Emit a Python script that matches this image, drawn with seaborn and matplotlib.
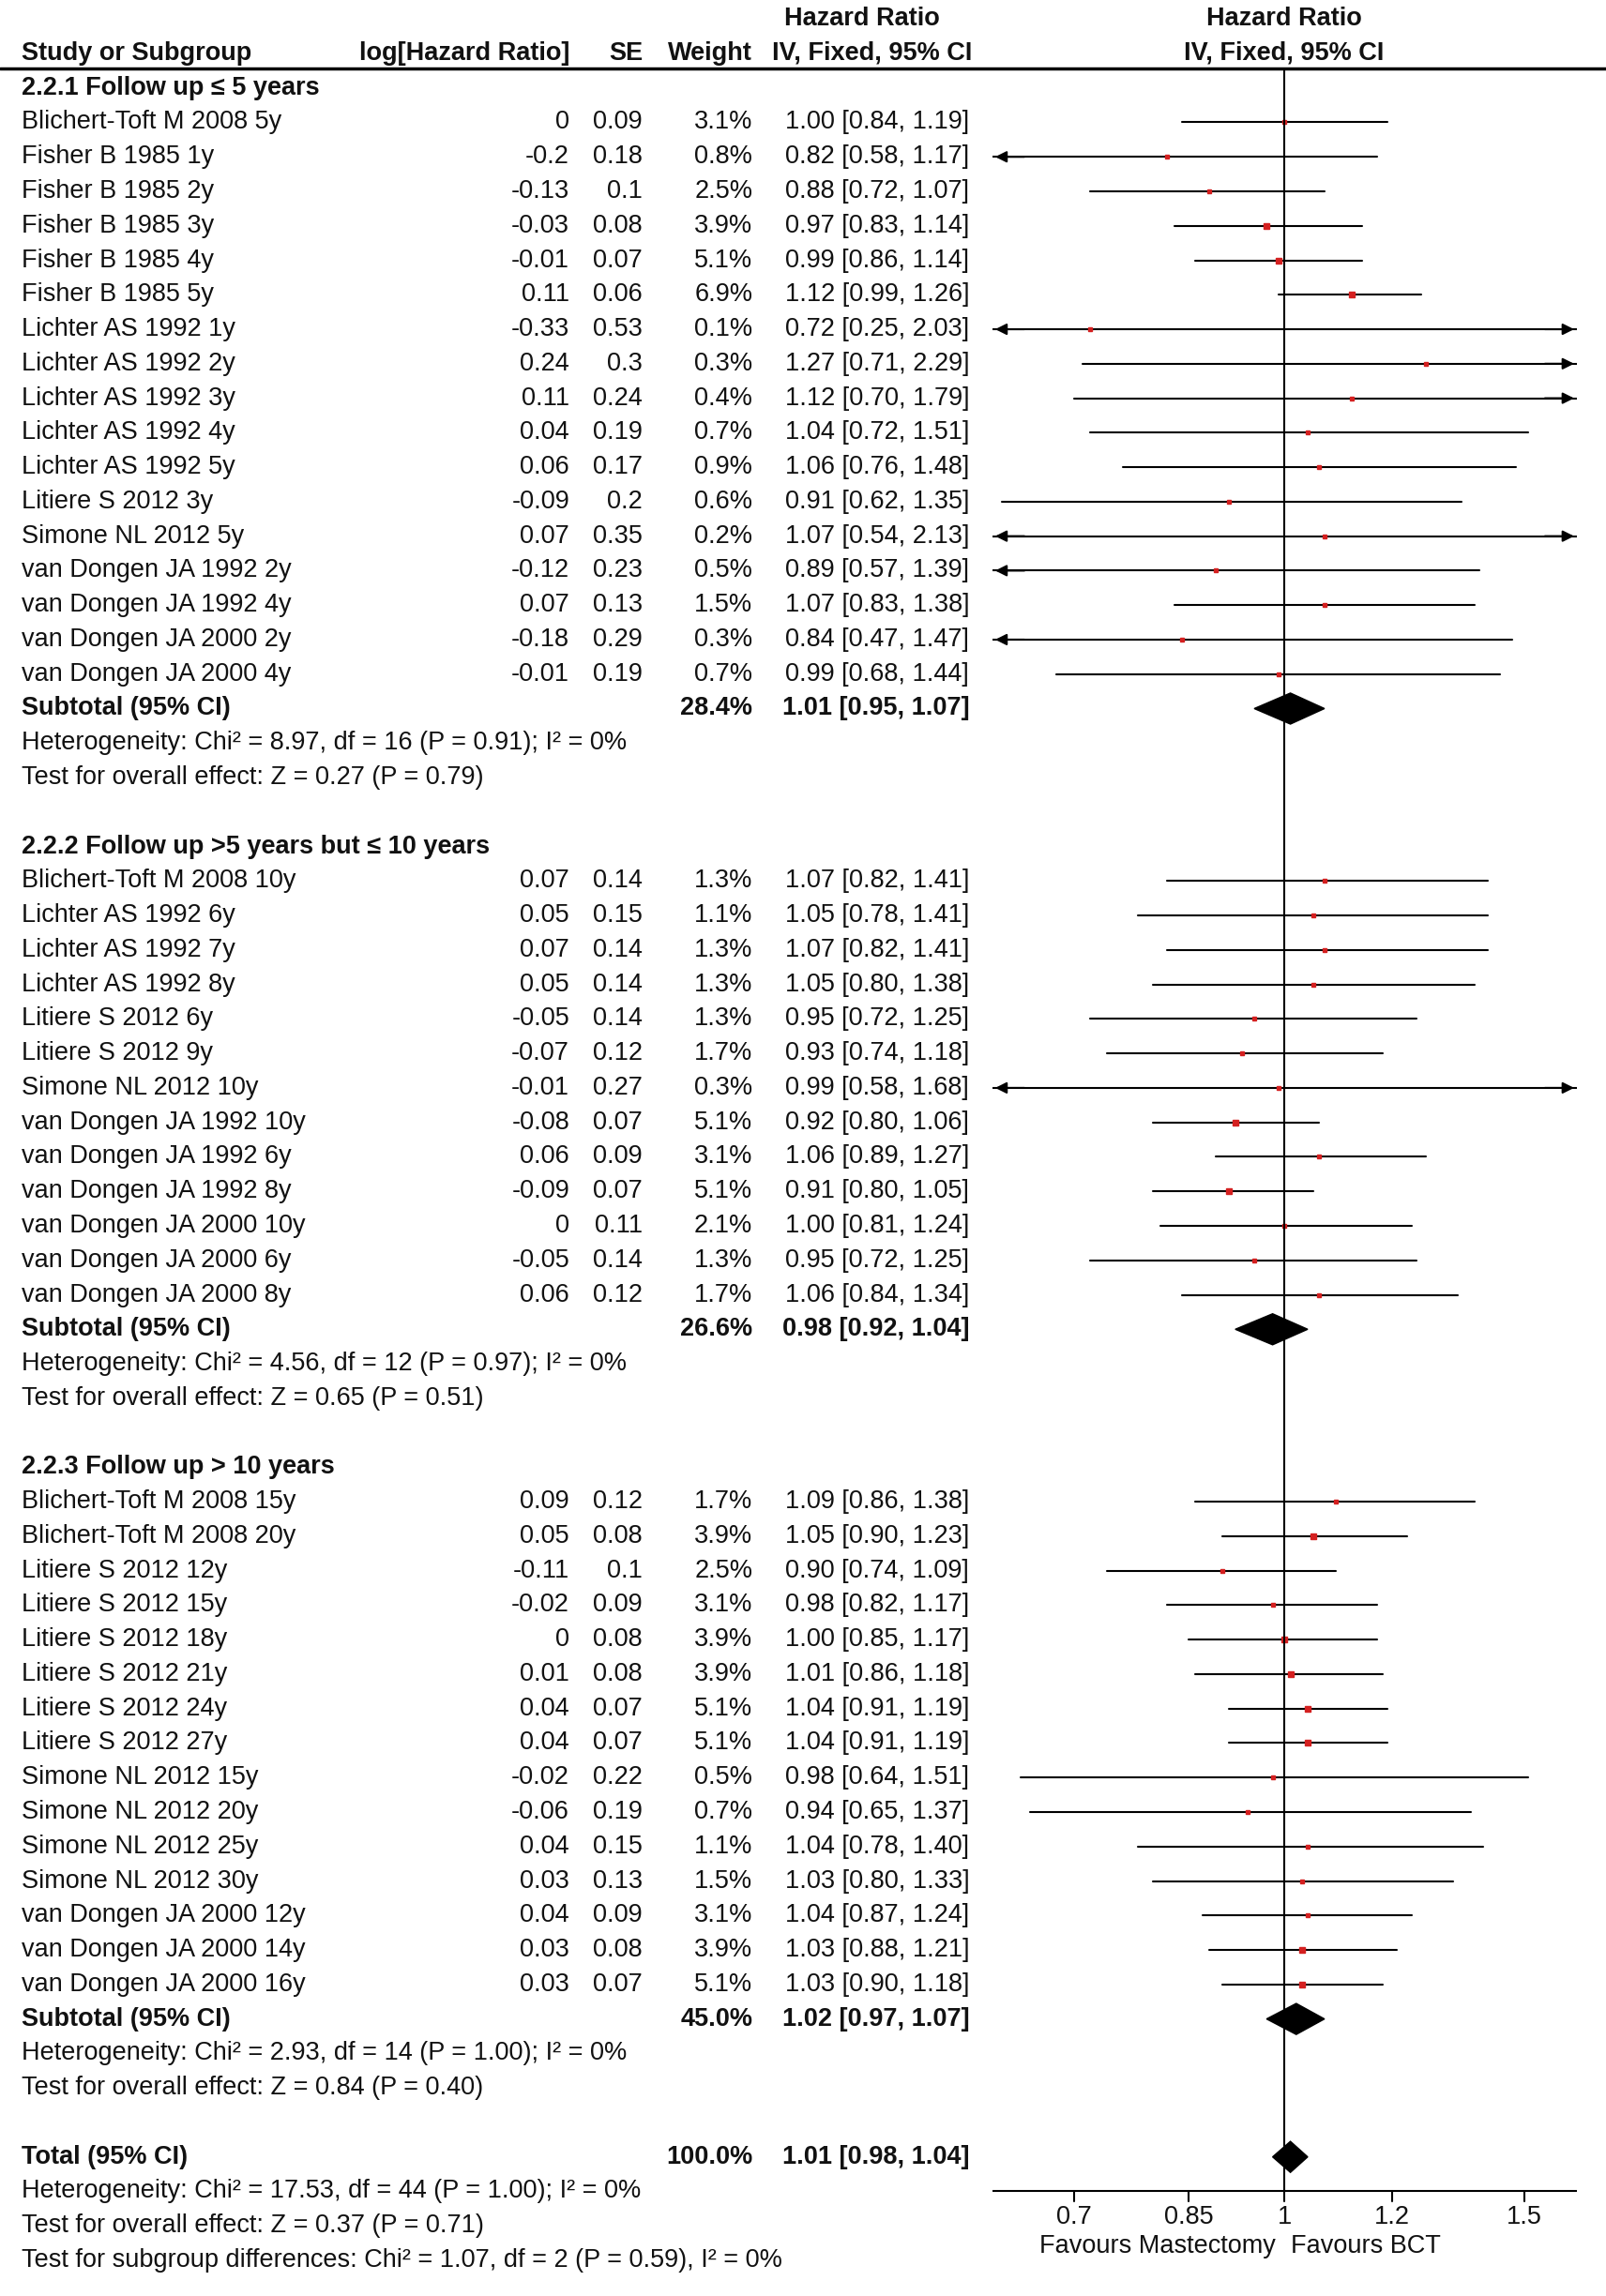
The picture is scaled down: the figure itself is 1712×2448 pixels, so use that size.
import numpy as np
import matplotlib
matplotlib.use("Agg")
import matplotlib.pyplot as plt
import seaborn as sns

sns.set_theme(style="white")
plt.rcParams['font.family'] = ['Liberation Sans', 'DejaVu Sans']

# ---- data ----
names1 = ["Blichert-Toft M 2008 5y", "Fisher B 1985 1y", "Fisher B 1985 2y", "Fisher B 1985 3y",
          "Fisher B 1985 4y", "Fisher B 1985 5y", "Lichter AS 1992 1y", "Lichter AS 1992 2y",
          "Lichter AS 1992 3y", "Lichter AS 1992 4y", "Lichter AS 1992 5y", "Litiere S 2012 3y",
          "Simone NL 2012 5y", "van Dongen JA 1992 2y", "van Dongen JA 1992 4y",
          "van Dongen JA 2000 2y", "van Dongen JA 2000 4y"]
loghr1 = ["0", "-0.2", "-0.13", "-0.03", "-0.01", "0.11", "-0.33", "0.24", "0.11", "0.04", "0.06",
          "-0.09", "0.07", "-0.12", "0.07", "-0.18", "-0.01"]
se1 = ["0.09", "0.18", "0.1", "0.08", "0.07", "0.06", "0.53", "0.3", "0.24", "0.19", "0.17",
       "0.2", "0.35", "0.23", "0.13", "0.29", "0.19"]
w1 = [3.1, 0.8, 2.5, 3.9, 5.1, 6.9, 0.1, 0.3, 0.4, 0.7, 0.9, 0.6, 0.2, 0.5, 1.5, 0.3, 0.7]
hr1 = [1.00, 0.82, 0.88, 0.97, 0.99, 1.12, 0.72, 1.27, 1.12, 1.04, 1.06, 0.91, 1.07, 0.89, 1.07, 0.84, 0.99]
lo1 = [0.84, 0.58, 0.72, 0.83, 0.86, 0.99, 0.25, 0.71, 0.70, 0.72, 0.76, 0.62, 0.54, 0.57, 0.83, 0.47, 0.68]
hi1 = [1.19, 1.17, 1.07, 1.14, 1.14, 1.26, 2.03, 2.29, 1.79, 1.51, 1.48, 1.35, 2.13, 1.39, 1.38, 1.47, 1.44]

names2 = ["Blichert-Toft M 2008 10y", "Lichter AS 1992 6y", "Lichter AS 1992 7y", "Lichter AS 1992 8y",
          "Litiere S 2012 6y", "Litiere S 2012 9y", "Simone NL 2012 10y", "van Dongen JA 1992 10y",
          "van Dongen JA 1992 6y", "van Dongen JA 1992 8y", "van Dongen JA 2000 10y",
          "van Dongen JA 2000 6y", "van Dongen JA 2000 8y"]
loghr2 = ["0.07", "0.05", "0.07", "0.05", "-0.05", "-0.07", "-0.01", "-0.08", "0.06", "-0.09", "0", "-0.05", "0.06"]
se2 = ["0.14", "0.15", "0.14", "0.14", "0.14", "0.12", "0.27", "0.07", "0.09", "0.07", "0.11", "0.14", "0.12"]
w2 = [1.3, 1.1, 1.3, 1.3, 1.3, 1.7, 0.3, 5.1, 3.1, 5.1, 2.1, 1.3, 1.7]
hr2 = [1.07, 1.05, 1.07, 1.05, 0.95, 0.93, 0.99, 0.92, 1.06, 0.91, 1.00, 0.95, 1.06]
lo2 = [0.82, 0.78, 0.82, 0.80, 0.72, 0.74, 0.58, 0.80, 0.89, 0.80, 0.81, 0.72, 0.84]
hi2 = [1.41, 1.41, 1.41, 1.38, 1.25, 1.18, 1.68, 1.06, 1.27, 1.05, 1.24, 1.25, 1.34]

names3 = ["Blichert-Toft M 2008 15y", "Blichert-Toft M 2008 20y", "Litiere S 2012 12y", "Litiere S 2012 15y",
          "Litiere S 2012 18y", "Litiere S 2012 21y", "Litiere S 2012 24y", "Litiere S 2012 27y",
          "Simone NL 2012 15y", "Simone NL 2012 20y", "Simone NL 2012 25y", "Simone NL 2012 30y",
          "van Dongen JA 2000 12y", "van Dongen JA 2000 14y", "van Dongen JA 2000 16y"]
loghr3 = ["0.09", "0.05", "-0.11", "-0.02", "0", "0.01", "0.04", "0.04", "-0.02", "-0.06", "0.04", "0.03", "0.04", "0.03", "0.03"]
se3 = ["0.12", "0.08", "0.1", "0.09", "0.08", "0.08", "0.07", "0.07", "0.22", "0.19", "0.15", "0.13", "0.09", "0.08", "0.07"]
w3 = [1.7, 3.9, 2.5, 3.1, 3.9, 3.9, 5.1, 5.1, 0.5, 0.7, 1.1, 1.5, 3.1, 3.9, 5.1]
hr3 = [1.09, 1.05, 0.90, 0.98, 1.00, 1.01, 1.04, 1.04, 0.98, 0.94, 1.04, 1.03, 1.04, 1.03, 1.03]
lo3 = [0.86, 0.90, 0.74, 0.82, 0.85, 0.86, 0.91, 0.91, 0.64, 0.65, 0.78, 0.80, 0.87, 0.88, 0.90]
hi3 = [1.38, 1.23, 1.09, 1.17, 1.17, 1.18, 1.19, 1.19, 1.51, 1.37, 1.40, 1.33, 1.24, 1.21, 1.18]

groups = [
    dict(title="2.2.1 Follow up \u2264 5 years", names=names1, loghr=loghr1, se=se1, w=w1, hr=hr1, lo=lo1, hi=hi1,
         sub_w="28.4%", sub=(1.01, 0.95, 1.07),
         het="Heterogeneity: Chi\u00b2 = 8.97, df = 16 (P = 0.91); I\u00b2 = 0%",
         test="Test for overall effect: Z = 0.27 (P = 0.79)"),
    dict(title="2.2.2 Follow up >5 years but \u2264 10 years", names=names2, loghr=loghr2, se=se2, w=w2, hr=hr2, lo=lo2, hi=hi2,
         sub_w="26.6%", sub=(0.98, 0.92, 1.04),
         het="Heterogeneity: Chi\u00b2 = 4.56, df = 12 (P = 0.97); I\u00b2 = 0%",
         test="Test for overall effect: Z = 0.65 (P = 0.51)"),
    dict(title="2.2.3 Follow up > 10 years", names=names3, loghr=loghr3, se=se3, w=w3, hr=hr3, lo=lo3, hi=hi3,
         sub_w="45.0%", sub=(1.02, 0.97, 1.07),
         het="Heterogeneity: Chi\u00b2 = 2.93, df = 14 (P = 1.00); I\u00b2 = 0%",
         test="Test for overall effect: Z = 0.84 (P = 0.40)"),
]
total = (1.01, 0.98, 1.04)
total_lines = ["Heterogeneity: Chi\u00b2 = 17.53, df = 44 (P = 1.00); I\u00b2 = 0%",
               "Test for overall effect: Z = 0.37 (P = 0.71)",
               "Test for subgroup differences: Chi\u00b2 = 1.07, df = 2 (P = 0.59), I\u00b2 = 0%"]
ticks = [0.7, 0.85, 1, 1.2, 1.5]
tick_labels = ["0.7", "0.85", "1", "1.2", "1.5"]

# ---- layout ----
W, H = 1097, 1568
fig = plt.figure(figsize=(17.12, 24.48), dpi=100)
ax = fig.add_axes([0, 0, 1, 1])
ax.set_xlim(0, W)
r0, dr = 60, 23.55
ylim = ((H - r0) / dr, -r0 / dr)
ax.set_ylim(*ylim)
ax.axis("off")

fx = fig.add_axes([678 / W, 0, 399 / W, 1])
xmin, xmax = 0.61, 1.64
fx.set_xscale("log")
fx.set_xlim(xmin, xmax)
fx.set_ylim(*ylim)
fx.axis("off")
fx.patch.set_alpha(0)

fs = 19.5
def t(x, r, s, ha="left", bold=False):
    ax.text(x, r, s, ha=ha, va="center", fontsize=fs, color="#111111",
            fontweight="bold" if bold else "normal")

# headers
t(589, -2, "Hazard Ratio", ha="center", bold=True)
t(877, -2, "Hazard Ratio", ha="center", bold=True)
t(15, -1, "Study or Subgroup", bold=True)
t(389, -1, "log[Hazard Ratio]", ha="right", bold=True)
t(439, -1, "SE", ha="right", bold=True)
t(514, -1, "Weight", ha="right", bold=True)
t(596, -1, "IV, Fixed, 95% CI", ha="center", bold=True)
t(877, -1, "IV, Fixed, 95% CI", ha="center", bold=True)
ax.plot([0, W], [-0.55, -0.55], color="black", lw=2.5)

def diamond(r, est, lo, hi):
    fx.fill([lo, est, hi, est], [r, r - 0.45, r, r + 0.45], color="black")

r = 0
for g in groups:
    t(15, r, g["title"], bold=True)
    r += 1
    for i in range(len(g["names"])):
        t(15, r, g["names"][i])
        t(389, r, g["loghr"][i], ha="right")
        t(439, r, g["se"][i], ha="right")
        t(514, r, f"{g['w'][i]:.1f}%", ha="right")
        t(662, r, f"{g['hr'][i]:.2f} [{g['lo'][i]:.2f}, {g['hi'][i]:.2f}]", ha="right")
        lo, hi = g["lo"][i], g["hi"][i]
        fx.plot([max(lo, xmin), min(hi, xmax)], [r, r], color="black", lw=1.5)
        if lo < xmin:
            fx.annotate("", xy=(xmin, r), xytext=(xmin * 1.06, r),
                        arrowprops=dict(arrowstyle="-|>", color="black", lw=1.5, mutation_scale=18))
        if hi > xmax:
            fx.annotate("", xy=(xmax, r), xytext=(xmax / 1.06, r),
                        arrowprops=dict(arrowstyle="-|>", color="black", lw=1.5, mutation_scale=18))
        fx.plot([g["hr"][i]], [r], marker="s", color="#d42020", ls="none",
                markersize=2.5 + 0.6 * np.sqrt(g["w"][i]))
        r += 1
    t(15, r, "Subtotal (95% CI)", bold=True)
    t(514, r, g["sub_w"], ha="right", bold=True)
    est, lo, hi = g["sub"]
    t(662, r, f"{est:.2f} [{lo:.2f}, {hi:.2f}]", ha="right", bold=True)
    diamond(r, est, lo, hi)
    r += 1
    t(15, r, g["het"])
    r += 1
    t(15, r, g["test"])
    r += 2

t(15, r, "Total (95% CI)", bold=True)
t(514, r, "100.0%", ha="right", bold=True)
t(662, r, f"{total[0]:.2f} [{total[1]:.2f}, {total[2]:.2f}]", ha="right", bold=True)
diamond(r, *total)
for k, s in enumerate(total_lines):
    t(15, r + 1 + k, s)

# forest axis
axis_r = r + 1.0
fx.plot([1, 1], [-0.55, axis_r], color="black", lw=1.5)
fx.plot([xmin, xmax], [axis_r, axis_r], color="black", lw=1.5)
for tk, lb in zip(ticks, tick_labels):
    fx.plot([tk, tk], [axis_r, axis_r + 0.3], color="black", lw=1.5)
    fx.text(tk, axis_r + 0.75, lb, ha="center", va="center", fontsize=fs, color="#111111")
fx.text(0.985, axis_r + 1.6, "Favours Mastectomy", ha="right", va="center", fontsize=fs, color="#111111")
fx.text(1.01, axis_r + 1.6, "Favours BCT", ha="left", va="center", fontsize=fs, color="#111111")

fig.savefig("out.png", dpi=100, facecolor="white")
